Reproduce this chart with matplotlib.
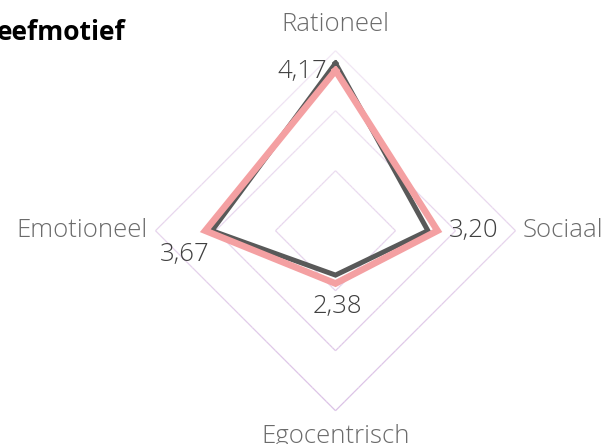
import numpy as np
import matplotlib
matplotlib.use("Agg")
import matplotlib.pyplot as plt
from matplotlib.collections import LineCollection

categories = ["Rationeel", "Sociaal", "Egocentrisch", "Emotioneel"]
series_dark = [4.29, 3.04, 2.24, 3.56]
series_pink = [4.17, 3.20, 2.38, 3.67]
data_labels = ["4,17", "3,20", "2,38", "3,67"]
title_text = "eefmotief"

r_min, r_max, r_step = 1.5, 4.5, 1.0

W, H = 609, 444
fig = plt.figure(figsize=(W / 100, H / 100), dpi=100)
ax = fig.add_axes([0, 0, 1, 1])
px = 60.0  # pixels per unit
cx, cy = 335.5, 230.7
ax.set_xlim(-cx / px, (W - cx) / px)
ax.set_ylim(-(H - cy) / px, cy / px)
ax.set_aspect("equal")
ax.axis("off")

n = len(categories)
ang = np.arange(n) * 2 * np.pi / n  # clockwise from top


def xy(vals):
    r = np.asarray(vals) - r_min
    return r * np.sin(ang), r * np.cos(ang)


# grid rings (diamonds), faint at top, stronger at bottom
top_c = np.array([0.95, 0.91, 0.96])
bot_c = np.array([0.86, 0.76, 0.90])
levels = np.arange(r_min + r_step, r_max + 1e-9, r_step)
rl = r_max - r_min
for lv in levels:
    gx, gy = xy([lv] * n)
    gx = np.append(gx, gx[0]); gy = np.append(gy, gy[0])
    segs, cols = [], []
    for i in range(n):
        t = np.linspace(0, 1, 40)
        xs = gx[i] + (gx[i + 1] - gx[i]) * t
        ys = gy[i] + (gy[i + 1] - gy[i]) * t
        for j in range(len(t) - 1):
            segs.append([(xs[j], ys[j]), (xs[j + 1], ys[j + 1])])
            f = np.clip((rl - (ys[j] + ys[j + 1]) / 2) / (2 * rl), 0, 1)
            cols.append(top_c + (bot_c - top_c) * f)
    ax.add_collection(LineCollection(segs, colors=cols, linewidths=0.9, zorder=1))

dark = "#595959"
pink = "#F4A0A2"
dx, dy = xy(series_dark)
ax.plot(np.append(dx, dx[0]), np.append(dy, dy[0]), color=dark, lw=3.6,
        solid_joinstyle="miter", zorder=3)
pxs, pys = xy(series_pink)
ax.plot(np.append(pxs, pxs[0]), np.append(pys, pys[0]), color=pink, lw=4.8,
        solid_joinstyle="miter", zorder=4)

font = "Open Sans"
lab_c = "#6b6b6b"
num_c = "#404040"
fs = 18.5
fw = "light"

# category labels
ax.text(0, rl + 0.43, categories[0], ha="center", va="center",
        fontsize=fs, color=lab_c, family=font, fontweight=fw)
ax.text(rl + 0.125, 0, categories[1], ha="left", va="center",
        fontsize=fs, color=lab_c, family=font, fontweight=fw)
ax.text(0, -rl - 0.43, categories[2], ha="center", va="center",
        fontsize=fs, color=lab_c, family=font, fontweight=fw)
ax.text(-rl - 0.125, 0, categories[3], ha="right", va="center",
        fontsize=fs, color=lab_c, family=font, fontweight=fw)

# data labels (pink series)
ax.text(pxs[0] - 0.14, pys[0] - 0.02, data_labels[0], ha="right", va="center",
        fontsize=fs, color=num_c, family=font, fontweight=fw)
ax.text(pxs[1] + 0.19, pys[1], data_labels[1], ha="left", va="center",
        fontsize=fs, color=num_c, family=font, fontweight=fw)
ax.text(pxs[2] + 0.04, pys[2] - 0.39, data_labels[2], ha="center", va="center",
        fontsize=fs, color=num_c, family=font, fontweight=fw)
ax.text(pxs[3] - 0.34, pys[3] - 0.40, data_labels[3], ha="center", va="center",
        fontsize=fs, color=num_c, family=font, fontweight=fw)

fig.text(-3 / W, 1 - 33 / H, title_text, ha="left", va="center", fontsize=19,
         fontweight="bold", color="black", family=font)

fig.savefig("out.png", dpi=100)
